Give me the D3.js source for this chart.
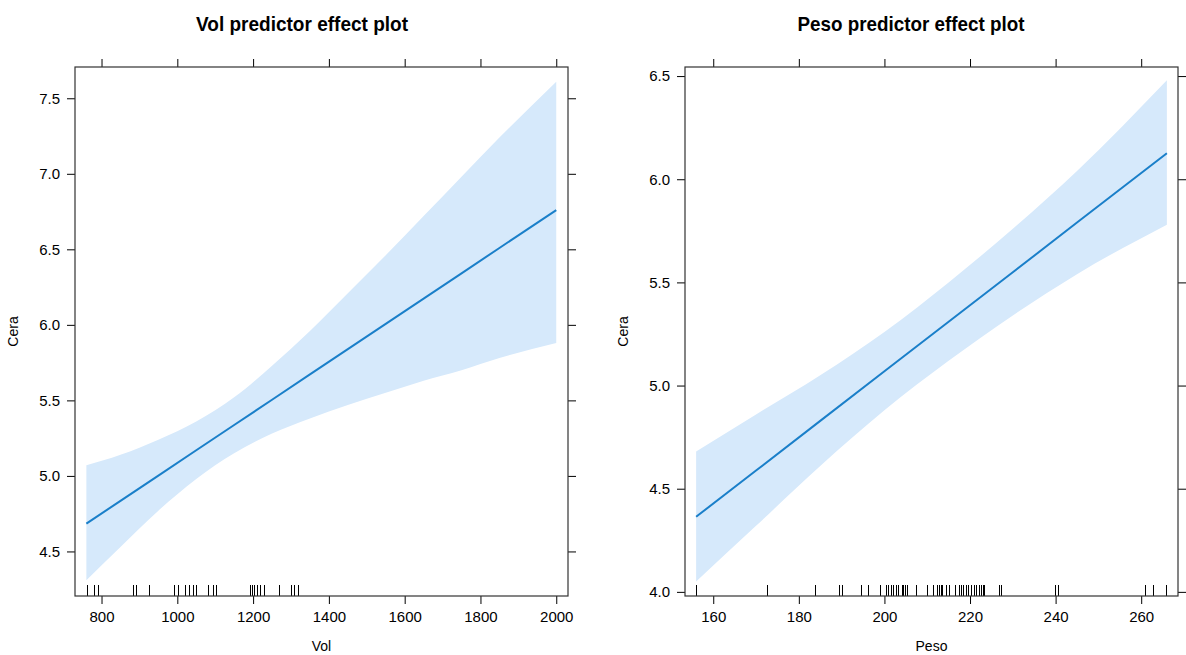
<!DOCTYPE html>
<html>
<head>
<meta charset="utf-8">
<script src="https://cdnjs.cloudflare.com/ajax/libs/d3/7.8.5/d3.min.js"></script>
<style>
  body { margin: 0; background: #fff; }
  svg text { font-family: 'Liberation Sans', Arial, sans-serif; fill: #000; }
</style>
</head>
<body>
<svg id="chart" width="1186" height="655"></svg>
<script>
(function () {

'use strict';

// Vol panel
var volX = [760, 850, 950, 1050, 1150, 1250, 1350, 1450, 1550, 1650, 1750, 1850, 2000];
var volFit = [4.684, 4.835, 5.002, 5.170, 5.337, 5.504, 5.672, 5.839, 6.007, 6.174, 6.341, 6.509, 6.760];
var volUpper = [5.07, 5.14, 5.24, 5.36, 5.52, 5.73, 5.96, 6.21, 6.46, 6.72, 6.98, 7.24, 7.61];
var volLower = [4.31, 4.53, 4.77, 4.98, 5.15, 5.28, 5.38, 5.47, 5.55, 5.63, 5.70, 5.78, 5.88];
var volRug = [762, 780, 790, 882, 891, 924, 990, 1001, 1021, 1032, 1041, 1050, 1082, 1093, 1102,
  1192, 1197, 1203, 1210, 1218, 1230, 1269, 1300, 1308, 1318];
var volXTicks = [800, 1000, 1200, 1400, 1600, 1800, 2000];
var volYTicks = [4.5, 5.0, 5.5, 6.0, 6.5, 7.0, 7.5];

// Peso panel
var pesoX = [156, 170, 185, 200, 215, 230, 245, 266];
var pesoFit = [4.364, 4.588, 4.829, 5.069, 5.309, 5.549, 5.790, 6.126];
var pesoUpper = [4.68, 4.86, 5.05, 5.26, 5.50, 5.76, 6.04, 6.48];
var pesoLower = [4.05, 4.32, 4.61, 4.88, 5.12, 5.34, 5.54, 5.78];
var pesoRug = [156, 172.6, 183.8, 189.4, 190.2, 194.5, 196.1, 199.0, 200.3, 200.9, 201.5, 202.1,
  202.6, 203.2, 204.0, 204.4, 204.8, 205.2, 207.4, 209.9, 211.4, 212.2, 212.7, 213.2, 213.5,
  214.5, 215.1, 216.6, 217.4, 217.9, 218.4, 219.0, 219.6, 220.2, 221.0, 221.5, 222.1, 222.6,
  223.1, 223.3, 226.8, 227.2, 239.8, 240.6, 260.9, 262.8, 265.9];
var pesoXTicks = [160, 180, 200, 220, 240, 260];
var pesoYTicks = [4.0, 4.5, 5.0, 5.5, 6.0, 6.5];

var lineColor = '#1a7fc9',
    bandColor = '#d6e9fb',
    frameColor = '#333';

var svg = d3.select('#chart');

function drawPanel(p) {
  var x = d3.scaleLinear().domain(p.xDomain).range([p.left, p.right]);
  var y = d3.scaleLinear().domain(p.yDomain).range([p.bottom, p.top]);
  var fmt = d3.format('.1f');

  var g = svg.append('g');

  var rows = p.xs.map(function (d, i) {
    return { x: d, fit: p.fit[i], lo: p.lower[i], hi: p.upper[i] };
  });

  g.append('path')
    .datum(rows)
    .attr('fill', bandColor)
    .attr('d', d3.area()
      .curve(d3.curveMonotoneX)
      .x(function (d) { return x(d.x); })
      .y0(function (d) { return y(d.lo); })
      .y1(function (d) { return y(d.hi); }));

  g.append('path')
    .datum(rows)
    .attr('fill', 'none')
    .attr('stroke', lineColor)
    .attr('stroke-width', 2)
    .attr('d', d3.line()
      .x(function (d) { return x(d.x); })
      .y(function (d) { return y(d.fit); }));

  // rug
  g.selectAll('line.rug')
    .data(p.rug)
    .enter()
    .append('line')
    .attr('class', 'rug')
    .attr('x1', function (d) { return Math.round(x(d)) + 0.5; })
    .attr('x2', function (d) { return Math.round(x(d)) + 0.5; })
    .attr('y1', p.bottom - 11)
    .attr('y2', p.bottom)
    .attr('stroke', '#000')
    .attr('stroke-width', 1);

  // axes on all four sides, labels only left and bottom
  var axes = [
    { ax: d3.axisLeft(y).tickValues(p.yTicks).tickFormat(fmt), t: 'translate(' + p.left + ',0)' },
    { ax: d3.axisRight(y).tickValues(p.yTicks).tickFormat(''), t: 'translate(' + p.right + ',0)' },
    { ax: d3.axisBottom(x).tickValues(p.xTicks).tickFormat(d3.format('d')), t: 'translate(0,' + p.bottom + ')' },
    { ax: d3.axisTop(x).tickValues(p.xTicks).tickFormat(''), t: 'translate(0,' + p.top + ')' }
  ];
  axes.forEach(function (a) {
    var ag = g.append('g')
      .attr('transform', a.t)
      .call(a.ax.tickSize(8).tickPadding(7));
    ag.select('.domain').remove();
    ag.selectAll('line').attr('stroke', '#000');
    ag.selectAll('text')
      .style('font-family', "'Liberation Sans', Arial, sans-serif")
      .style('font-size', '15px')
      .attr('fill', '#000');
  });

  g.append('rect')
    .attr('x', p.left)
    .attr('y', p.top)
    .attr('width', p.right - p.left)
    .attr('height', p.bottom - p.top)
    .attr('fill', 'none')
    .attr('stroke', frameColor)
    .attr('stroke-width', 1.2);

  g.append('text')
    .attr('x', p.titleX)
    .attr('y', 31)
    .attr('text-anchor', 'middle')
    .attr('textLength', p.titleLen)
    .attr('lengthAdjust', 'spacingAndGlyphs')
    .style('font-size', '21px')
    .style('font-weight', 'bold')
    .text(p.title);

  g.append('text')
    .attr('x', (p.left + p.right) / 2)
    .attr('y', 651)
    .attr('text-anchor', 'middle')
    .style('font-size', '14px')
    .text(p.xLabel);

  g.append('text')
    .attr('transform', 'translate(' + (p.left - 57) + ',' + ((p.top + p.bottom) / 2) + ') rotate(-90)')
    .attr('text-anchor', 'middle')
    .style('font-size', '14px')
    .text('Cera');
}

drawPanel({
  title: 'Vol predictor effect plot', titleX: 302, titleLen: 212,
  xLabel: 'Vol',
  left: 75, right: 568, top: 67, bottom: 596,
  xDomain: [730, 2031], yDomain: [4.205, 7.707],
  xs: volX, fit: volFit, upper: volUpper, lower: volLower, rug: volRug,
  xTicks: volXTicks, yTicks: volYTicks
});

drawPanel({
  title: 'Peso predictor effect plot', titleX: 911, titleLen: 227,
  xLabel: 'Peso',
  left: 685, right: 1178, top: 67, bottom: 596,
  xDomain: [153.4, 268.6], yDomain: [3.98, 6.544],
  xs: pesoX, fit: pesoFit, upper: pesoUpper, lower: pesoLower, rug: pesoRug,
  xTicks: pesoXTicks, yTicks: pesoYTicks
});

})();
</script>
</body>
</html>
